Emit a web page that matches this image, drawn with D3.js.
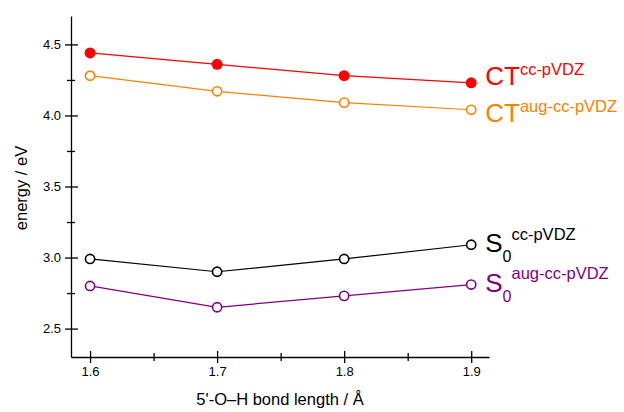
<!DOCTYPE html>
<html lang="en">
<head>
<meta charset="utf-8">
<title>energy vs bond length</title>
<script src="https://d3js.org/d3.v7.min.js"></script>
<style>
  body { margin: 0; background: #fff; }
  svg text { font-family: "Liberation Sans", Arial, sans-serif; }
</style>
</head>
<body>
<script>
'use strict';

// data
var bondLength = [1.6, 1.7, 1.8, 1.9];
var ctCc     = [4.44, 4.36, 4.28, 4.23];
var ctAug    = [4.28, 4.17, 4.09, 4.04];
var s0Cc     = [2.99, 2.90, 2.99, 3.09];
var s0Aug    = [2.80, 2.65, 2.73, 2.81];
var seriesNames = ["CT", "CT", "S", "S"];
var seriesSubs  = ["", "", "0", "0"];
var seriesSups  = ["cc-pVDZ", "aug-cc-pVDZ", "cc-pVDZ", "aug-cc-pVDZ"];
var xMajor = [1.6, 1.7, 1.8, 1.9];
var xMinor = [1.65, 1.75, 1.85];
var yMajor = [2.5, 3.0, 3.5, 4.0, 4.5];
var yMinor = [2.75, 3.25, 3.75, 4.25];

var w = 624, h = 412;
var colors = ["#ff0000", "#ff7f00", "#000000", "#800080"];
var filled = [true, false, false, false];
var allSeries = [ctCc, ctAug, s0Cc, s0Aug];

var svg = d3.select("body").append("svg")
    .attr("width", w)
    .attr("height", h);

var x = d3.scaleLinear().domain([1.585, 1.914]).range([71, 489]);
var y = d3.scaleLinear().domain([2.3, 4.7]).range([357, 16]);

// axes
var xAxis = svg.append("g")
    .attr("transform", "translate(0,357)")
    .call(d3.axisBottom(x).tickValues(xMajor).tickFormat(d3.format(".1f")).tickSizeOuter(0));
xAxis.selectAll(".tick line").attr("y1", -6).attr("y2", 6);
xAxis.selectAll(".tick text").attr("y", 10).attr("font-size", "13px");

var xAxisMinor = svg.append("g")
    .attr("transform", "translate(0,357)")
    .call(d3.axisBottom(x).tickValues(xMinor).tickFormat("").tickSizeOuter(0));
xAxisMinor.select(".domain").remove();
xAxisMinor.selectAll(".tick line").attr("y1", -4).attr("y2", 4);

var yAxis = svg.append("g")
    .attr("transform", "translate(71,0)")
    .call(d3.axisLeft(y).tickValues(yMajor).tickFormat(d3.format(".1f")).tickSizeOuter(0));
yAxis.selectAll(".tick line").attr("x1", -6).attr("x2", 7);
yAxis.selectAll(".tick text").attr("x", -10).attr("font-size", "13px");

var yAxisMinor = svg.append("g")
    .attr("transform", "translate(71,0)")
    .call(d3.axisLeft(y).tickValues(yMinor).tickFormat("").tickSizeOuter(0));
yAxisMinor.select(".domain").remove();
yAxisMinor.selectAll(".tick line").attr("x1", -4).attr("x2", 4);

svg.selectAll(".domain, .tick line").attr("stroke", "#000").attr("stroke-width", 1.3);
svg.selectAll(".tick text").attr("fill", "#000");

// axis titles
svg.append("text")
    .attr("x", 280)
    .attr("y", 405)
    .attr("text-anchor", "middle")
    .attr("font-size", "16.5px")
    .text("5'-O\u2013H bond length / \u00c5");

svg.append("text")
    .attr("transform", "translate(27,188) rotate(-90)")
    .attr("text-anchor", "middle")
    .attr("font-size", "16.5px")
    .text("energy / eV");

// lines and markers
var line = d3.line()
    .x(function(d, i) { return x(bondLength[i]); })
    .y(function(d) { return y(d); });

allSeries.forEach(function(s, k) {
    svg.append("path")
        .datum(s)
        .attr("d", line)
        .attr("fill", "none")
        .attr("stroke", colors[k])
        .attr("stroke-width", 1.2);

    svg.selectAll(".pt" + k)
        .data(s)
        .enter()
        .append("circle")
        .attr("class", "pt" + k)
        .attr("cx", function(d, i) { return x(bondLength[i]); })
        .attr("cy", function(d) { return y(d); })
        .attr("r", filled[k] ? 5.5 : 4.6)
        .attr("fill", filled[k] ? colors[k] : "#fff")
        .attr("stroke", colors[k])
        .attr("stroke-width", filled[k] ? 0 : 1.6);
});

// series labels at the right end
var baseDy = [2, 12, 7, 7];
var supDy = [-10, -10, -22, -23];
allSeries.forEach(function(s, k) {
    var last = s.length - 1;
    var t = svg.append("text")
        .attr("x", x(bondLength[last]) + 14)
        .attr("y", y(s[last]) + baseDy[k])
        .attr("fill", colors[k])
        .attr("font-size", "26px");
    t.append("tspan").text(seriesNames[k]);
    if (seriesSubs[k]) {
        t.append("tspan")
            .attr("font-size", "16px")
            .attr("dy", 10)
            .text(seriesSubs[k]);
    }
    t.append("tspan")
        .attr("font-size", "16.5px")
        .attr("dy", supDy[k])
        .text(seriesSups[k]);
});
</script>
</body>
</html>
